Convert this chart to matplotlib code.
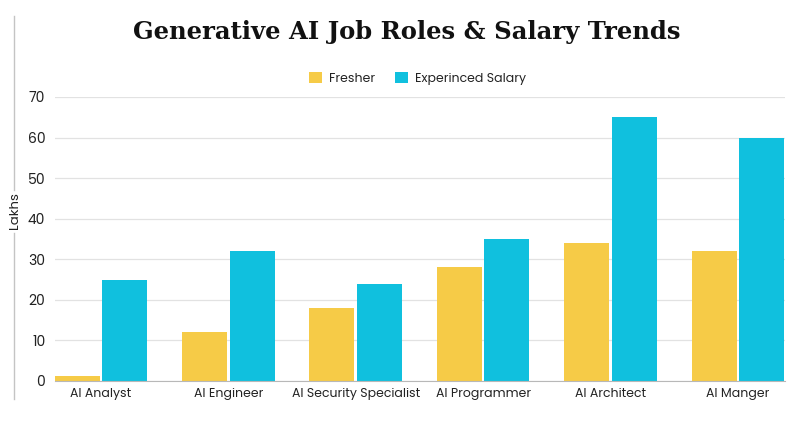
import matplotlib.pyplot as plt
import numpy as np
from matplotlib.lines import Line2D

categories = ['AI Analyst', 'AI Engineer', 'AI Security Specialist',
              'AI Programmer', 'AI Architect', 'AI Manger']
fresher = [1.2, 12, 18, 28, 34, 32]
experienced = [25, 32, 24, 35, 65, 60]
yticks = [0, 10, 20, 30, 40, 50, 60, 70]

yellow = '#F6CB47'
cyan = '#10C0DE'

plt.rcParams['font.family'] = ['Poppins', 'Inter', 'DejaVu Sans']

fig = plt.figure(figsize=(8, 4.3), dpi=100)
ax = fig.add_axes([55 / 800, 1 - 381 / 430, 730 / 800, 284 / 430])

x = np.arange(len(categories))
w = 0.353
ax.bar(x - w / 2 - 0.01, fresher, w, color=yellow, label='Fresher', zorder=3)
ax.bar(x + w / 2 + 0.01, experienced, w, color=cyan, label='Experinced Salary', zorder=3)

ax.set_xlim(-0.36, 5.37)
ax.set_ylim(0, 70)
ax.set_yticks(yticks)
ax.set_xticks(x)
ax.set_xticklabels(categories, fontsize=9, color='#222222')
ax.tick_params(axis='y', labelsize=10, colors='#222222', length=0, pad=7)
ax.tick_params(axis='x', length=0, pad=5)
ax.grid(axis='y', color='#e2e2e2', linewidth=0.9, zorder=0)
for s in ['top', 'right', 'left']:
    ax.spines[s].set_visible(False)
ax.spines['bottom'].set_color('#b8b8b8')
ax.spines['bottom'].set_zorder(4)

# left vertical rule with the axis title breaking it
fig.add_artist(Line2D([13.5 / 800, 13.5 / 800], [1 - 190 / 430, 1 - 16 / 430],
                      color='#c4c4c4', linewidth=1))
fig.add_artist(Line2D([13.5 / 800, 13.5 / 800], [1 - 399 / 430, 1 - 233 / 430],
                      color='#c4c4c4', linewidth=1))
fig.text(15 / 800, 1 - 211 / 430, 'Lakhs', rotation=90, fontsize=9.5,
         ha='center', va='center', color='#222222')

fig.text(407 / 800, 1 - 32 / 430, 'Generative AI Job Roles & Salary Trends',
         fontsize=17.5, fontweight='bold', family='DejaVu Serif',
         ha='center', va='center', color='#111111')

ax.legend(loc='center', bbox_to_anchor=(0.497, 1.065), ncol=2, frameon=False,
          fontsize=9, handlelength=1.0, handleheight=1.0, columnspacing=1.6,
          handletextpad=0.6, labelcolor='#222222')

fig.savefig('out.png', dpi=100, facecolor='white')
